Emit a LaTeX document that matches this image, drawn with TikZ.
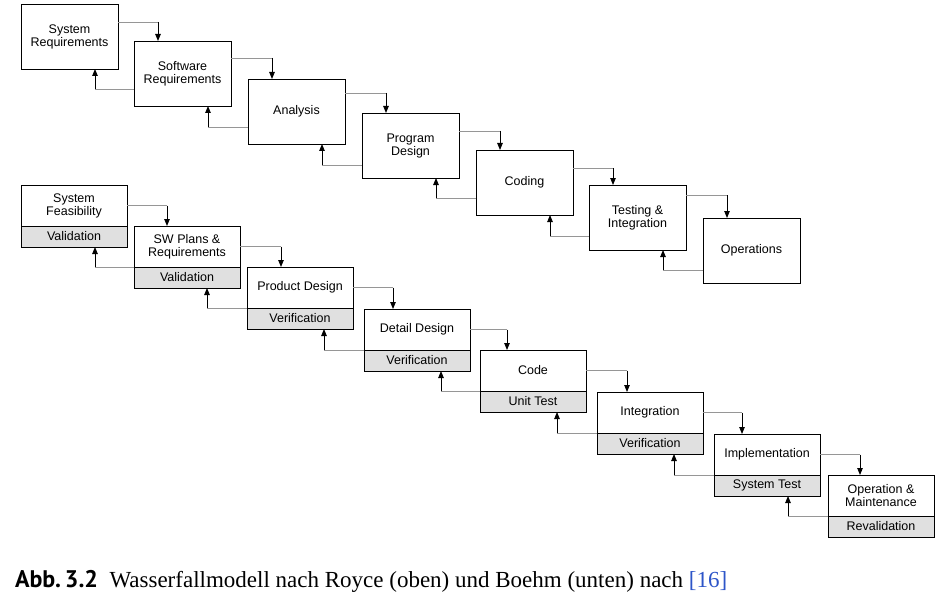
\documentclass[tikz,border=0pt]{standalone}
\usepackage{fontspec}
\setmainfont{Liberation Serif}
\newfontfamily\diagfont{Liberation Sans}
\newfontfamily\capfont{PT Sans}
\usetikzlibrary{positioning, arrows.meta}
\definecolor{linegrey}{RGB}{150,150,150}
\definecolor{stripgrey}{RGB}{224,224,224}
\definecolor{citeblue}{RGB}{45,85,200}

\begin{document}
\begin{tikzpicture}[x=1pt, y=-1pt,
    every node/.style={font=\diagfont\fontsize{12.5}{13}\selectfont, align=center, inner sep=2pt, outer sep=0pt},
    phase/.style={draw, line width=0.9pt, minimum width=97pt, minimum height=65pt},
    stage/.style={draw, line width=0.9pt, minimum width=106pt, minimum height=41pt},
    check/.style={stage, fill=stripgrey, minimum height=21pt},
    feed/.style={draw=linegrey, line width=0.9pt},
    arrow/.style={draw=black, -{Triangle[length=7pt, width=5.5pt]}}
  ]
    \useasboundingbox (0,0) rectangle (937,599);

    % Royce
    \node[phase, anchor=north west] (sysreq) at (21,4) {System\\Requirements};
    \node[phase, below right=-28pt and 16pt of sysreq] (swreq) {Software\\Requirements};
    \node[phase, below right=-27pt and 17pt of swreq] (analysis) {Analysis};
    \node[phase, below right=-31pt and 17pt of analysis] (progdes) {Program\\Design};
    \node[phase, below right=-28pt and 17pt of progdes] (coding) {Coding};
    \node[phase, below right=-30pt and 16pt of coding] (testing) {Testing \&\\Integration};
    \node[phase, below right=-32pt and 17pt of testing] (operations) {Operations};

    \foreach \a/\b/\dy in {sysreq/swreq/18, swreq/analysis/17, analysis/progdes/14,
        progdes/coding/18, coding/testing/18, testing/operations/10} {
      \path ([xshift=24pt]\b.north west) coordinate (t);
      \draw[feed] ([yshift=-\dy pt]\a.north east) coordinate (s) -- (s -| t) edge[arrow] (t);
    }
    \foreach \a/\b/\dy in {sysreq/swreq/17, swreq/analysis/17, analysis/progdes/13,
        progdes/coding/17, coding/testing/14, testing/operations/13} {
      \path ([xshift=74pt]\a.south west) coordinate (t);
      \draw[feed] ([yshift=\dy pt]\b.south west) coordinate (s) -- (s -| t) edge[arrow] (t);
    }

    % Boehm
    \node[stage, anchor=north west] (sysfeas) at (21,185) {System\\Feasibility};
    \node[check, below=0pt of sysfeas] (sysfeasv) {Validation};
    \node[stage, below right=-21pt and 7pt of sysfeasv] (swplans) {SW Plans \&\\Requirements};
    \node[check, below=0pt of swplans] (swplansv) {Validation};
    \node[stage, below right=-21pt and 7pt of swplansv] (proddes) {Product Design};
    \node[check, below=0pt of proddes] (proddesv) {Verification};
    \node[stage, below right=-20pt and 11pt of proddesv] (detdes) {Detail Design};
    \node[check, below=0pt of detdes] (detdesv) {Verification};
    \node[stage, below right=-21pt and 10pt of detdesv] (code) {Code};
    \node[check, below=0pt of code] (codev) {Unit Test};
    \node[stage, below right=-20pt and 11pt of codev] (integ) {Integration};
    \node[check, below=0pt of integ] (integv) {Verification};
    \node[stage, below right=-20pt and 11pt of integv] (impl) {Implementation};
    \node[check, below=0pt of impl] (implv) {System Test};
    \node[stage, below right=-21pt and 8pt of implv] (opmaint) {Operation \&\\Maintenance};
    \node[check, below=0pt of opmaint] (opmaintv) {Revalidation};

    \foreach \a/\b/\dx in {sysfeas/swplans/33, swplans/proddes/34, proddes/detdes/29,
        detdes/code/27, code/integ/30, integ/impl/28, impl/opmaint/32} {
      \path ([xshift=\dx pt]\b.north west) coordinate (t);
      \draw[feed] (\a.east) coordinate (s) -- (s -| t) edge[arrow] (t);
    }
    \foreach \a/\b/\dx in {sysfeasv/swplansv/74, swplansv/proddesv/73, proddesv/detdesv/77,
        detdesv/codev/77, codev/integv/77, integv/implv/77, implv/opmaintv/74} {
      \path ([xshift=\dx pt]\a.south west) coordinate (t);
      \draw[feed] (\b.north west) coordinate (s) -- (s -| t) edge[arrow] (t);
    }

    \node[anchor=base west, inner sep=0pt, align=left, font=\rmfamily\fontsize{23}{27}\selectfont] (caption) at (15,587)
      {{\capfont\bfseries\fontsize{24}{27}\selectfont Abb.\,3.2}\hspace{0.5em}Wasserfallmodell nach Royce (oben) und Boehm (unten) nach \textcolor{citeblue}{[16]}};
  \end{tikzpicture}
\end{document}
